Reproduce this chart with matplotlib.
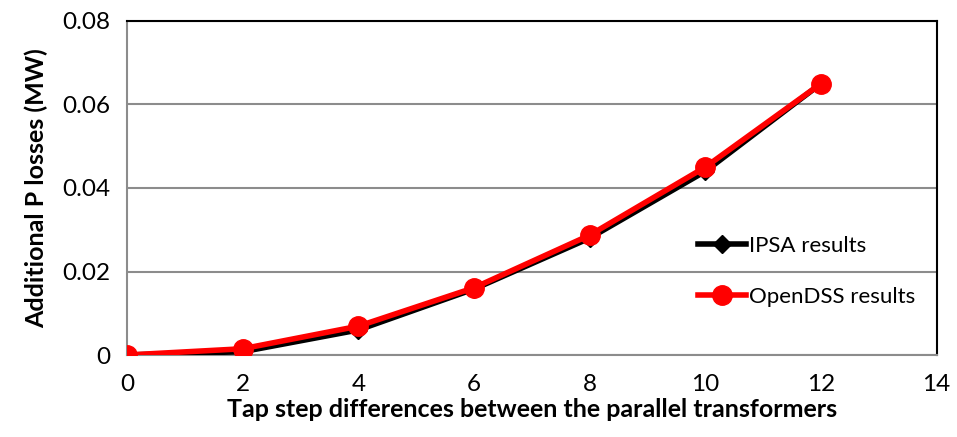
import numpy as np
import matplotlib.pyplot as plt

plt.rcParams['font.family'] = ['Lato', 'DejaVu Sans']

tap_steps = [0, 2, 4, 6, 8, 10, 12]
ipsa_losses = [0.0, 0.0008, 0.006, 0.0158, 0.028, 0.044, 0.065]
opendss_losses = [0.0, 0.0015, 0.0069, 0.0161, 0.0287, 0.045, 0.065]

fig = plt.figure(figsize=(9.57, 4.37), dpi=100)
ax = fig.add_axes([0.1327, 0.1876, 0.846, 0.7644])

ax.plot(tap_steps, ipsa_losses, color='black', lw=4, marker='D', markersize=9,
        label='IPSA results', zorder=3)
ax.plot(tap_steps, opendss_losses, color='#ff0000', lw=4, marker='o', markersize=14,
        label='OpenDSS results', zorder=4)

ax.set_xlim(0, 14)
ax.set_ylim(0, 0.08)
ax.set_xticks(np.arange(0, 15, 2))
ax.set_yticks([0, 0.02, 0.04, 0.06, 0.08])
ax.set_yticklabels(['0', '0.02', '0.04', '0.06', '0.08'])
ax.tick_params(labelsize=17.5, length=0)
ax.tick_params(axis='x', pad=14)
ax.tick_params(axis='y', pad=12)
ax.grid(axis='y', color='#8c8c8c', lw=1.5)
ax.set_axisbelow(True)
for side in ['left', 'bottom']:
    ax.spines[side].set_color('#8c8c8c')
    ax.spines[side].set_linewidth(1.5)
for side in ['top', 'right']:
    ax.spines[side].set_color('black')
    ax.spines[side].set_linewidth(1.5)

ax.set_xlabel('Tap step differences between the parallel transformers', fontsize=18,
              fontweight='bold', labelpad=2)
ax.set_ylabel('Additional P losses (MW)', fontsize=18, fontweight='bold', labelpad=10)

ax.legend(loc='center left', bbox_to_anchor=(0.68, 0.25), frameon=False, fontsize=16,
          handlelength=2.2, handletextpad=0.1, labelspacing=1.4)

fig.savefig('out.png', dpi=100)
